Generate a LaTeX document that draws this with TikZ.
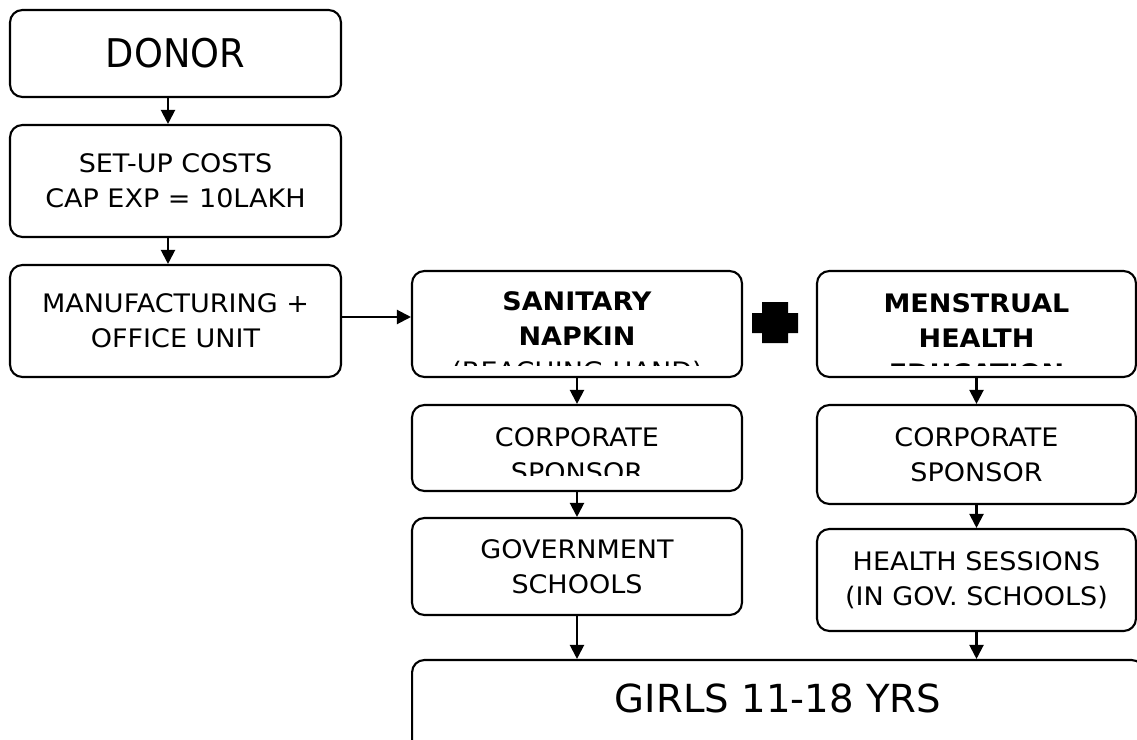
\documentclass[tikz,border=0pt]{standalone}
\usepackage{fontspec}
\setmainfont{DejaVu Sans}
\newfontfamily\wf[FakeStretch=1.06]{DejaVu Sans}
\newfontfamily\donorf[FakeStretch=0.93]{DejaVu Sans}
\usetikzlibrary{arrows.meta,calc}
\begin{document}
\begin{tikzpicture}[x=0.02cm,y=-0.02cm,
  box/.style={draw, line width=1.2pt, rounded corners=7pt, inner sep=0pt, align=center,
              font=\wf\fontsize{14.5}{19.8}\selectfont},
  txt/.style={align=center, inner sep=0pt, font=\wf\fontsize{14.5}{19.8}\selectfont},
  arr/.style={line width=1.2pt, -{Triangle[length=8pt,width=8pt]}}]
\useasboundingbox (0,0) rectangle (1137,740);
\clip (0,0) rectangle (1137,740);

% left column
\node[box, minimum width=6.62cm, minimum height=1.74cm, font=\donorf\fontsize{22.5}{26}\selectfont] (donor) at (175.5,53.5) {DONOR};
\node[box, minimum width=6.62cm, minimum height=2.24cm] (setup) at (175.5,181) {SET-UP COSTS\\CAP EXP = 10LAKH};
\node[box, minimum width=6.62cm, minimum height=2.24cm] (manuf) at (175.5,321) {MANUFACTURING +\\OFFICE UNIT};

% middle column
\node[box, minimum width=6.6cm, minimum height=2.12cm] (san) at (577,324) {};
\begin{scope}
  \clip (412,271) rectangle (742,365);
  \node[txt] (sant) at (577,338) {\textbf{SANITARY}\\\textbf{NAPKIN}\\(REACHING HAND)};
\end{scope}
\node[box, minimum width=6.6cm, minimum height=1.72cm] (corp1) at (577,448) {};
\begin{scope}
  \clip (412,405) rectangle (742,475);
  \node[txt] (corp1t) at (577,455) {CORPORATE\\SPONSOR};
\end{scope}
\node[box, minimum width=6.6cm, minimum height=1.94cm] (gov) at (577,566.5) {GOVERNMENT\\SCHOOLS};

% right column
\node[box, minimum width=6.38cm, minimum height=2.12cm] (men) at (976.5,324) {};
\begin{scope}
  \clip (817,271) rectangle (1136,365);
  \node[txt] (ment) at (976.5,338) {\textbf{MENSTRUAL}\\\textbf{HEALTH}\\\textbf{EDUCATION}};
\end{scope}
\node[box, minimum width=6.38cm, minimum height=1.98cm] (corp2) at (976.5,454.5) {CORPORATE\\SPONSOR};
\node[box, minimum width=6.38cm, minimum height=2.04cm] (health) at (976.5,580) {HEALTH SESSIONS\\(IN GOV. SCHOOLS)};

% bottom
\node[box, minimum width=14.64cm, minimum height=2.0cm] (girls) at (778,710) {};
\node[inner sep=0pt, font=\fontsize{22}{26}\selectfont] (girlst) at (778,698) {GIRLS 11-18 YRS};

% plus sign
\fill (762,302) -- (788,302) -- (788,313) -- (798,313) -- (798,333) -- (788,333)
  -- (788,343) -- (762,343) -- (762,333) -- (752,333) -- (752,313) -- (762,313) -- cycle;

% connectors
\draw[arr] ([xshift=-0.15cm]donor.south) -- ([xshift=-0.15cm]setup.north);
\draw[arr] ([xshift=-0.15cm]setup.south) -- ([xshift=-0.15cm]manuf.north);
\draw[arr] ([yshift=0.08cm]manuf.east) -- ([yshift=0.08cm]manuf.east -| san.west);
\draw[arr] (san.south) -- (corp1.north);
\draw[arr] (corp1.south) -- (gov.north);
\draw[arr] (gov.south) -- (gov.south |- girls.north);
\draw[arr] (men.south) -- (corp2.north);
\draw[arr] (corp2.south) -- (health.north);
\draw[arr] (health.south) -- (health.south |- girls.north);
\end{tikzpicture}
\end{document}
